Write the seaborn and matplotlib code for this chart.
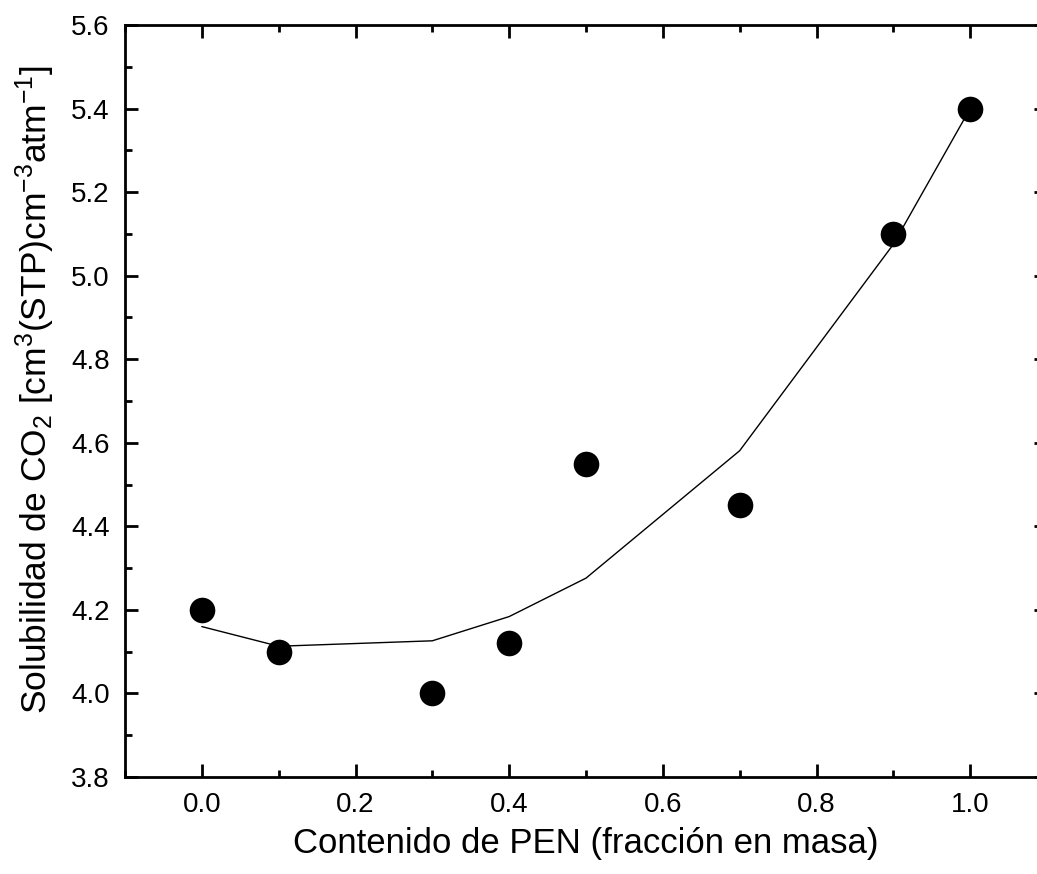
import numpy as np
import pandas as pd
import seaborn as sns
import matplotlib.pyplot as plt

# Data
pen_fraction = [0.0, 0.1, 0.3, 0.4, 0.5, 0.7, 0.9, 1.0]
solubility = [4.20, 4.10, 4.00, 4.12, 4.55, 4.45, 5.10, 5.40]
fit_solubility = [4.16, 4.113, 4.126, 4.184, 4.276, 4.581, 5.075, 5.40]

df = pd.DataFrame({'x': pen_fraction, 'y': solubility, 'fit': fit_solubility})

sns.set_style('ticks')
plt.rcParams['font.family'] = ['Liberation Sans', 'DejaVu Sans']
plt.rcParams['mathtext.default'] = 'regular'
plt.rcParams['xtick.labelsize'] = 20
plt.rcParams['ytick.labelsize'] = 20

fig = plt.figure(figsize=(10.37, 8.74), dpi=100)
ax = fig.add_axes([125 / 1037, 97 / 874, 922 / 1037, 752 / 874])

sns.lineplot(data=df, x='x', y='fit', ax=ax, color='black', linewidth=1.0)
sns.scatterplot(data=df, x='x', y='y', ax=ax, color='black', s=340,
                edgecolor='black', linewidth=0, zorder=3)

ax.set_xlim(-0.1, 1.1)
ax.set_ylim(3.8, 5.6)
ax.set_xticks(np.arange(0.0, 1.01, 0.2))
ax.set_xticks(np.arange(-0.1, 1.11, 0.1), minor=True)
ax.set_yticks(np.arange(3.8, 5.61, 0.2))
ax.set_yticks(np.arange(3.9, 5.6, 0.2), minor=True)
ax.xaxis.set_major_formatter(plt.FormatStrFormatter('%.1f'))
ax.yaxis.set_major_formatter(plt.FormatStrFormatter('%.1f'))

for side in ax.spines.values():
    side.set_linewidth(2.0)
    side.set_color('black')
ax.tick_params(which='both', direction='in', top=True, right=True, width=2.0,
               colors='black')
ax.tick_params(which='major', length=9.5, labelsize=20, pad=11)
ax.tick_params(which='minor', length=5)

ax.set_xlabel('Contenido de PEN (fracción en masa)', fontsize=25, labelpad=6,
              color='black')
ax.set_ylabel('Solubilidad de CO$_2$ [cm$^3$(STP)cm$^{-3}$atm$^{-1}$]', fontsize=25.5,
              labelpad=10, color='black')
ax.yaxis.label.set_y(0.515)

fig.savefig('out.png', dpi=100)
